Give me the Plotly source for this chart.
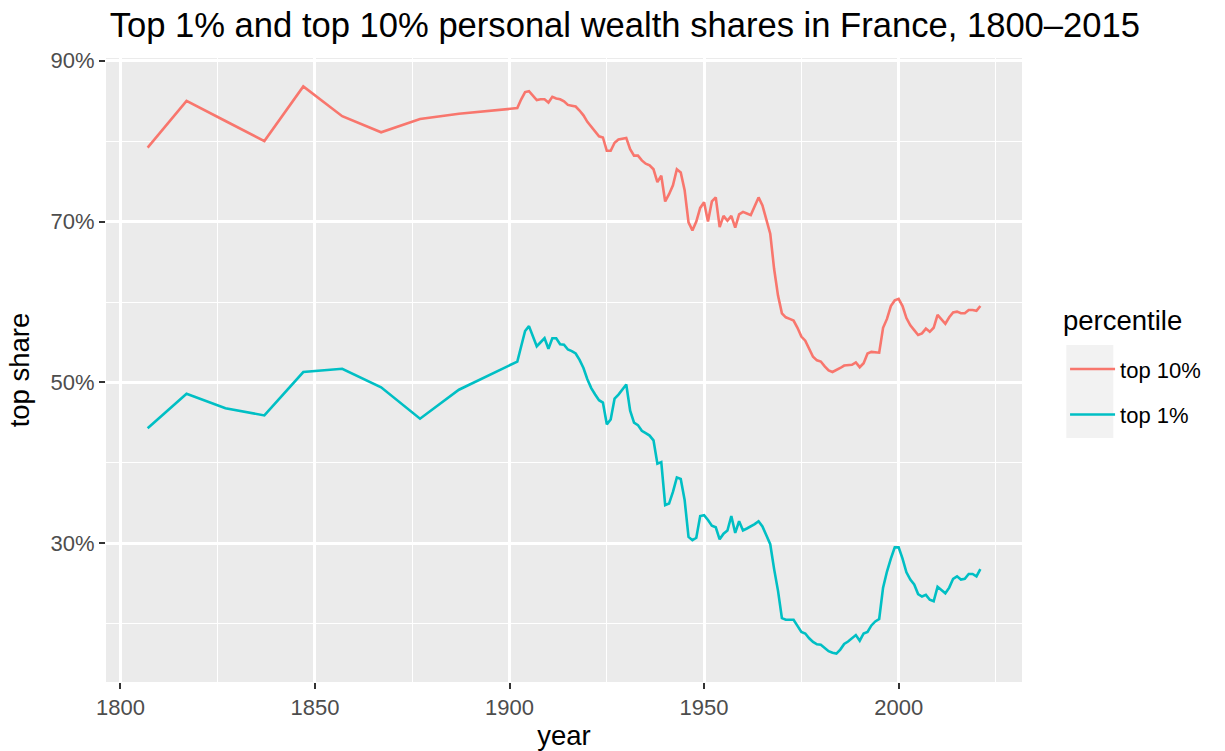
import plotly.graph_objects as go

panel_color = '#EBEBEB'
text_color = '#000000'
tick_color = '#4D4D4D'
font_family = 'Liberation Sans, Arial, sans-serif'

# early observations, one per decade
years_early = [1807, 1817, 1827, 1837, 1847, 1857, 1867, 1877, 1887]
top10_early = [79.2, 85.0, 82.5, 80.0, 86.8, 83.1, 81.1, 82.75, 83.4]
top1_early = [44.3, 48.6, 46.8, 45.9, 51.3, 51.7, 49.4, 45.5, 49.1]

# yearly observations from 1902 to 2021
years_annual = list(range(1902, 2022))
top10_annual = [
    84.1, 85.2, 86.1, 86.2, 85.6, 85.1, 85.2, 85.2, 84.8, 85.5,
    85.3, 85.2, 84.95, 84.5, 84.4, 84.3, 83.8, 83.2, 82.4, 81.8,
    81.1, 80.6, 80.45, 78.8, 78.8, 79.8, 80.2, 80.3, 80.4, 79.0,
    78.2, 78.2, 77.6, 77.2, 77.0, 76.5, 74.9, 75.7, 72.5, 73.4,
    74.5, 76.5, 76.1, 73.9, 69.9, 68.9, 70.0, 71.7, 72.4, 70.0,
    72.5, 73.0, 69.3, 70.7, 70.1, 70.7, 69.25, 70.9, 71.2, 71.0,
    70.8, 71.9, 73.0, 72.0, 70.3, 68.5, 64.1, 60.8, 58.6, 58.1,
    57.9, 57.7, 56.8, 55.7, 55.2, 54.1, 53.2, 52.75, 52.6, 52.0,
    51.5, 51.3, 51.5, 51.8, 52.1, 52.15, 52.2, 52.5, 51.9, 52.4,
    53.6, 53.8, 53.75, 53.7, 56.8, 57.9, 59.5, 60.2, 60.4, 59.5,
    58.0, 57.1, 56.5, 55.9, 56.1, 56.7, 56.3, 56.8, 58.4, 57.8,
    57.3, 58.1, 58.7, 58.8, 58.6, 58.6, 59.0, 59.0, 58.9, 59.5,
]
top1_annual = [
    52.6, 54.5, 56.4, 57.0, 55.7, 54.5, 55.0, 55.5, 54.2, 55.5,
    55.5, 54.75, 54.7, 54.1, 53.9, 53.6, 52.8, 51.8, 50.4, 49.3,
    48.5, 47.8, 47.5, 44.8, 45.4, 48.0, 48.5, 49.2, 49.75, 46.5,
    45.0, 44.7, 44.0, 43.7, 43.4, 42.8, 39.9, 40.1, 34.75, 34.95,
    36.4, 38.2, 38.0, 35.4, 30.8, 30.4, 30.7, 33.4, 33.5, 32.9,
    32.2, 32.0, 30.5, 31.2, 31.6, 33.4, 31.3, 32.75, 31.6, 31.85,
    32.1, 32.4, 32.75, 32.1, 31.0, 29.9, 26.8, 24.1, 20.7, 20.5,
    20.5, 20.5, 19.75, 19.0, 18.8, 18.2, 17.75, 17.45, 17.4, 17.0,
    16.6, 16.4, 16.3, 16.8, 17.5, 17.8, 18.2, 18.6, 17.9, 18.8,
    19.0, 19.8, 20.3, 20.6, 24.5, 26.5, 28.1, 29.5, 29.5, 28.1,
    26.4, 25.5, 24.9, 23.7, 23.4, 23.6, 23.0, 22.8, 24.6, 24.2,
    23.8, 24.5, 25.6, 25.9, 25.5, 25.6, 26.2, 26.2, 25.9, 26.8,
]

years = years_early + years_annual
series = [
    ('top 10%', top10_early + top10_annual, '#F8766D'),
    ('top 1%', top1_early + top1_annual, '#00BFC4'),
]

x_ticks = [1800, 1850, 1900, 1950, 2000]
x_minor = [1825, 1875, 1925, 1975, 2025]
y_ticks = [30, 50, 70, 90]
y_tick_text = ['30%', '50%', '70%', '90%']
y_minor = [20, 40, 60, 80]

data = []
for name, values, color in series:
    data.append(go.Scatter(
        x=years,
        y=values,
        name=name,
        mode='lines',
        legendgroup=name,
        line=dict(color=color, width=2.6)))

axis_common = dict(
    showgrid=True,
    gridcolor='white',
    gridwidth=2.7,
    zeroline=False,
    showline=False,
    ticks='outside',
    ticklen=6,
    tickwidth=2.2,
    tickcolor='#333333',
    tickfont=dict(size=22, color=tick_color, family=font_family),
    automargin=False,
)

layout = go.Layout(
    width=1225,
    height=751,
    margin=dict(l=106, r=203, t=58, b=69, autoexpand=False),
    paper_bgcolor='white',
    plot_bgcolor=panel_color,
    font=dict(family=font_family, color=text_color),
    title=dict(text='Top 1% and top 10% personal wealth shares in France, 1800\u20132015',
               x=0.004, xref='paper', xanchor='left',
               y=0.967, yref='container', yanchor='middle',
               font=dict(size=34.6, color=text_color, family=font_family)),
    xaxis=dict(range=[1796.3, 2031.7], tickvals=x_ticks,
               minor=dict(tickvals=x_minor, showgrid=True, gridcolor='white', gridwidth=1.4, ticks=''),
               title=dict(text='year', font=dict(size=27.5, color=text_color), standoff=8),
               **axis_common),
    yaxis=dict(range=[12.77, 90.33], tickvals=y_ticks, ticktext=y_tick_text,
               minor=dict(tickvals=y_minor, showgrid=True, gridcolor='white', gridwidth=1.4, ticks=''),
               title=dict(text='top share', font=dict(size=27.5, color=text_color), standoff=12),
               **axis_common),
    legend=dict(
        font=dict(size=22, color=text_color),
        x=1.047, xanchor='left',
        y=0.535, yanchor='top',
        bgcolor='rgba(0,0,0,0)',
        traceorder='grouped',
        tracegroupgap=14,
        itemwidth=45,
    ),
    annotations=[dict(text='percentile', xref='paper', yref='paper',
                      x=1.043, xanchor='left', y=0.58, yanchor='middle',
                      showarrow=False, font=dict(size=27.5, color=text_color))],
    shapes=[dict(type='rect', xref='paper', yref='paper',
                 x0=1.0484, x1=1.0997, y0=0.391, y1=0.540,
                 fillcolor='#F2F2F2', line=dict(width=0), layer='below')],
)

fig = go.Figure(data=data, layout=layout)
fig.write_html("out.html", config={'displayModeBar': False},
               post_script="document.body.style.margin = '0';")
